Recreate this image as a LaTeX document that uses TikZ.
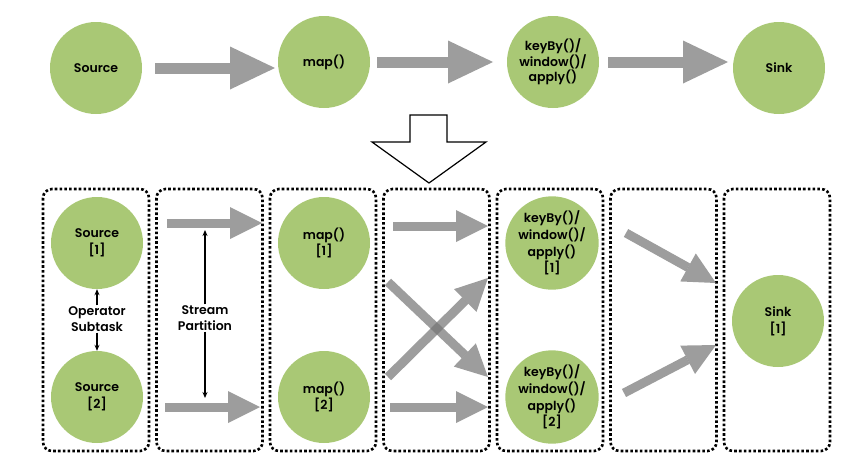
\documentclass[tikz,border=0pt]{standalone}
\usepackage{fontspec}
\setmainfont{Poppins}[BoldFont={Poppins SemiBold}]
\usetikzlibrary{arrows.meta}
\definecolor{opgreen}{RGB}{169,200,117}
\definecolor{flowgray}{RGB}{115,115,115}
\tikzset{
  op/.style={circle, fill=opgreen, minimum size=92pt, inner sep=0pt, align=center,
    font=\bfseries\fontsize{12.5}{16.7}\selectfont},
  tight/.style={font=\bfseries\fontsize{12.5}{12}\selectfont},
  fatarrow/.style={draw=flowgray, opacity=0.7, line width=11pt,
    -{Triangle[length=45pt,width=43pt,line width=0pt,fill=flowgray]}},
  thinarrow/.style={draw=flowgray, opacity=0.7, line width=9pt,
    -{Triangle[length=32pt,width=32pt,line width=0pt,fill=flowgray]}},
  taskbox/.style={draw, line width=2.6pt, dash pattern=on 2.6pt off 2.2pt, rounded corners=9pt},
  note/.style={align=center, inner sep=1pt, font=\bfseries\fontsize{12.5}{16}\selectfont},
  tiny/.style={-{Stealth[length=6pt,width=5pt]}, line width=1.2pt}
}
\begin{document}
\begin{tikzpicture}[x=1pt, y=-1pt]
\useasboundingbox (0,0) rectangle (862,469);
% logical plan
\node[op] (src) at (96,68) {Source};
\node[op] (map) at (324,62) {map()};
\node[op, tight] (kb) at (553,62) {keyBy()/\\window()/\\apply()};
\node[op] (sink) at (779,68) {Sink};
\draw[fatarrow] ([shift={(59,0)}]src.center) -- ([shift={(-49,6)}]map.center);
\draw[fatarrow] ([shift={(53,0)}]map.center) -- ([shift={(-60,0)}]kb.center);
\draw[fatarrow] ([shift={(55,0)}]kb.center) -- ([shift={(-51,-6)}]sink.center);
% down arrow
\draw[line width=1.2pt] (410,115) -- (447,115) -- (447,142) -- (486,142) -- (429,183)
  -- (372,142) -- (410,142) -- cycle;
% parallel plan
\foreach \i in {0,...,6}
  \draw[taskbox] (43+113.5*\i,189) rectangle (149+113.5*\i,451);
\node[op] (src1) at (97,243) {Source\\{[1]}};
\node[op] (src2) at (97,397) {Source\\{[2]}};
\node[op] (map1) at (324,243) {map()\\{[1]}};
\node[op] (map2) at (324,397) {map()\\{[2]}};
\node[op] (kb1) at (552,243) {keyBy()/\\window()/\\apply()\\{[1]}};
\node[op] (kb2) at (552,397) {keyBy()/\\window()/\\apply()\\{[2]}};
\node[op] (sink1) at (778,321) {Sink\\{[1]}};
\draw[thinarrow] ([shift={(70,-20)}]src1.center) -- ([shift={(-62,-20)}]map1.center);
\draw[thinarrow] ([shift={(68,10)}]src2.center) -- ([shift={(-64,10)}]map2.center);
\draw[thinarrow] ([shift={(69,-17)}]map1.center) -- ([shift={(-64,-17)}]kb1.center);
\draw[thinarrow] ([shift={(66,10)}]map2.center) -- ([shift={(-64,10)}]kb2.center);
\draw[thinarrow] ([shift={(64,39)}]map1.center) -- ([shift={(-64,-20)}]kb2.center);
\draw[thinarrow] ([shift={(64,-20)}]map2.center) -- ([shift={(-64,35)}]kb1.center);
\draw[thinarrow] ([shift={(74,-10)}]kb1.center) -- ([shift={(-62,-38)}]sink1.center);
\draw[thinarrow] ([shift={(72,-4)}]kb2.center) -- ([shift={(-62,24)}]sink1.center);
% labels
\node[note] (subtask) at (97,319) {Operator\\Subtask};
\draw[tiny] (subtask) -- (src1);
\draw[tiny] (subtask) -- (src2);
\node[note] (part) at (205,318) {Stream\\Partition};
\coordinate (parttop) at (205,230);
\coordinate (partbot) at (205,398);
\draw[tiny] (part) -- (parttop);
\draw[tiny] (part) -- (partbot);
\end{tikzpicture}
\end{document}
